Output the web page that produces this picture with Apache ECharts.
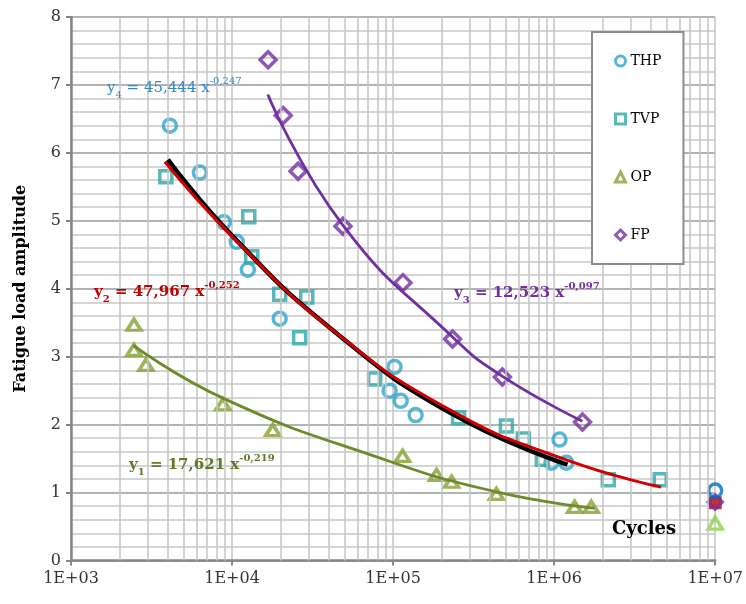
<!DOCTYPE html>
<html><head><meta charset="utf-8">
<script src="https://cdn.jsdelivr.net/npm/echarts@6/dist/echarts.min.js"></script>
<style>html,body{margin:0;padding:0;background:#fff}#c{width:746px;height:604px}</style>
</head><body><div id="c"></div>
<script>
// axis ticks
const xTicks = [1e3, 1e4, 1e5, 1e6, 1e7];
const xTickLabels = ['1E+03', '1E+04', '1E+05', '1E+06', '1E+07'];
const decadeStarts = [1e3, 1e4, 1e5, 1e6];
const minorMultipliers = [2, 3, 4, 5, 6, 7, 8, 9];
const legendNames = ['THP', 'TVP', 'OP', 'FP'];

// THP (circles)
const thpX = [4110, 6310, 8890, 10700, 12530, 19770, 102000, 95100, 111500, 138000, 1080000, 962000, 1190000];
const thpY = [6.40, 5.71, 4.98, 4.69, 4.28, 3.56, 2.85, 2.50, 2.35, 2.14, 1.78, 1.44, 1.44];
// TVP (squares)
const tvpX = [3880, 12700, 13250, 19770, 29100, 26300, 76800, 254900, 505000, 644000, 845000, 2170000, 4560000];
const tvpY = [5.65, 5.06, 4.47, 3.92, 3.88, 3.28, 2.67, 2.10, 1.98, 1.79, 1.49, 1.19, 1.19];
// OP (triangles)
const opX = [2460, 2460, 2920, 8770, 17900, 114500, 186000, 230700, 438000, 1340000, 1700000];
const opY = [3.47, 3.10, 2.88, 2.30, 1.92, 1.54, 1.26, 1.16, 0.98, 0.79, 0.79];
// FP (diamonds)
const fpX = [16750, 20760, 25700, 48850, 115100, 233900, 477000, 1500000];
const fpY = [7.37, 6.55, 5.73, 4.92, 4.09, 3.26, 2.70, 2.04];

// run-out points at 1E+07
const runX = 1e7;
const runBlueY = 1.03;
const runRedY = 0.85;
const runPurpleY = 0.86;
const runGreenY = 0.55;

// trend curves
const curve3X = [16670, 48600, 233900, 477600, 1497000];
const curve3Y = [6.86, 4.94, 3.29, 2.71, 2.05];
const curve2X = [3830, 10110, 42200, 223900, 1190000, 4620000];
const curve2Y = [5.87, 4.76, 3.39, 2.22, 1.48, 1.08];
const curveBX = [4000, 10110, 42200, 223900, 1210000];
const curveBY = [5.90, 4.77, 3.39, 2.18, 1.41];
const curve1X = [2430, 8770, 82400, 438500, 1780000];
const curve1Y = [3.17, 2.39, 1.51, 1.01, 0.77];

const zip = (xs, ys) => xs.map((x, i) => [x, ys[i]]);
const minorLines = [];
decadeStarts.forEach(d => minorMultipliers.forEach(m => minorLines.push({ xAxis: d * m })));

const FONT = 'DejaVu Serif';
const cTHP = '#31a4c9', cTVP = '#2fa8a8', cOP = '#85a132', cFP = '#7030a0';

function hollow(name, xs, ys, symbol, size, color, z) {
  return {
    name: name, type: 'scatter', data: zip(xs, ys), symbol: symbol, symbolSize: size,
    itemStyle: { color: 'rgba(255,255,255,0)', borderColor: color, borderWidth: 3.5 },
    z: z || 3, silent: true
  };
}
function curve(xs, ys, color, width, z) {
  return {
    type: 'line', data: zip(xs, ys), showSymbol: false, symbol: 'none', smooth: 0.5,
    lineStyle: { color: color, width: width }, z: z, silent: true
  };
}
function eqText(x, y, color, bold, sub, main, sup) {
  const fw = bold ? 'bold' : 'normal';
  return {
    type: 'text', left: x, top: y, z: 50, silent: true,
    style: {
      text: '{m|y}{s|' + sub + '}{m| = ' + main + ' x}{p|' + sup + '}',
      rich: {
        m: { fontFamily: FONT, fontSize: 15, fontWeight: fw, fill: color, lineHeight: 24, verticalAlign: 'middle' },
        s: { fontFamily: FONT, fontSize: 10, fontWeight: fw, fill: color, lineHeight: 12, verticalAlign: 'bottom' },
        p: { fontFamily: FONT, fontSize: 10, fontWeight: fw, fill: color, lineHeight: 12, verticalAlign: 'top' }
      }
    }
  };
}

const chart = echarts.init(document.getElementById('c'));
chart.setOption({
  animation: false,
  backgroundColor: '#fff',
  grid: { left: 71, right: 30, top: 17, bottom: 43.5 },
  xAxis: {
    type: 'log', logBase: 10, min: 1000, max: 1e7,
    axisLine: { lineStyle: { color: '#878787', width: 2.5 } },
    axisTick: { show: true, length: 5, lineStyle: { color: '#878787', width: 2 } },
    axisLabel: {
      margin: 10, fontFamily: FONT, fontSize: 16, color: '#333',
      formatter: v => {
        const i = xTicks.findIndex(t => Math.abs(Math.log10(t) - Math.log10(v)) < 1e-6);
        return i >= 0 ? xTickLabels[i] : '';
      }
    },
    splitLine: { show: true, lineStyle: { color: '#c4c4c4', width: 1.5 } }
  },
  yAxis: {
    type: 'value', min: 0, max: 8, interval: 1,
    name: 'Fatigue load amplitude', nameLocation: 'middle', nameGap: 42,
    nameTextStyle: { fontFamily: FONT, fontSize: 16, fontWeight: 'bold', color: '#000' },
    axisLine: { show: true, lineStyle: { color: '#878787', width: 2.5 } },
    axisTick: { show: true, length: 5, lineStyle: { color: '#878787', width: 2 } },
    axisLabel: { margin: 10, fontFamily: FONT, fontSize: 16, color: '#333' },
    splitLine: { show: true, lineStyle: { color: '#9a9a9a', width: 1.5 } },
    minorTick: { show: false, splitNumber: 5 },
    minorSplitLine: { show: true, lineStyle: { color: '#c8c8c8', width: 1.5 } }
  },
  legend: {
    data: legendNames, orient: 'vertical', left: 592, top: 32,
    padding: [22, 22, 22, 22], itemGap: 44, itemWidth: 10, itemHeight: 10,
    itemStyle: { borderWidth: 3 },
    backgroundColor: '#fff', borderColor: '#8c8c8c', borderWidth: 2, borderRadius: 0,
    textStyle: { fontFamily: FONT, fontSize: 14, color: '#000' }, selectedMode: false, z: 30
  },
  series: [
    {
      type: 'scatter', data: [], silent: true, z: 1,
      markLine: {
        silent: true, symbol: ['none', 'none'], label: { show: false },
        lineStyle: { color: '#c4c4c4', width: 1.5, type: 'solid' },
        data: minorLines, animation: false
      }
    },
    hollow('THP', thpX, thpY, 'circle', 13, cTHP),
    hollow('TVP', tvpX, tvpY, 'rect', 12, cTVP),
    hollow('OP', opX, opY, 'triangle', [14, 11], cOP),
    hollow('FP', fpX, fpY, 'diamond', [16, 16], cFP),
    { type: 'scatter', data: [[runX, runRedY]], symbol: 'rect', symbolSize: 13, itemStyle: { color: '#c00000' }, z: 3, silent: true },
    hollow('', [runX], [runPurpleY], 'diamond', [14, 14], cFP, 4),
    hollow('', [runX], [runBlueY], 'circle', 13, '#0070c0', 4),
    hollow('', [runX], [runGreenY], 'triangle', [14, 12], '#92d050', 4),
    curve(curve3X, curve3Y, '#7030a0', 2.8, 5),
    curve(curveBX, curveBY, '#000000', 4.5, 5),
    curve(curve2X, curve2Y, '#d00000', 3, 6),
    curve(curve1X, curve1Y, '#6f8a2a', 2.8, 5)
  ],
  graphic: [
    eqText(107, 76, '#2e8ac6', false, '4', '45,444', '-0,247'),
    eqText(94, 280, '#c00000', true, '2', '47,967', '-0,252'),
    eqText(129, 453, '#5f7a26', true, '1', '17,621', '-0,219'),
    eqText(454, 281, '#7030a0', true, '3', '12,523', '-0,097'),
    {
      type: 'text', left: 612, top: 520, z: 50, silent: true,
      style: { text: 'Cycles', fontFamily: FONT, fontSize: 18, fontWeight: 'bold', fill: '#000' }
    }
  ]
});
</script>
</body></html>
